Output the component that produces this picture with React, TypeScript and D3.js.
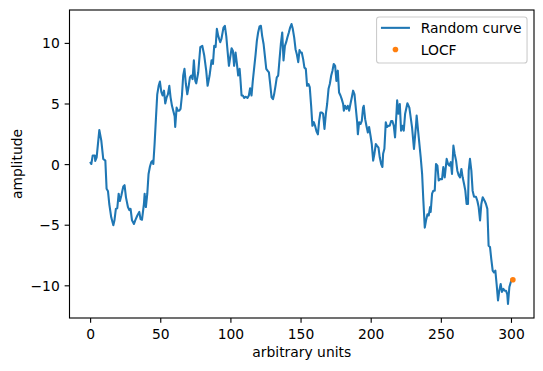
import React from 'react';
import * as d3 from 'd3';

// Random-walk curve (x in arbitrary units, y amplitude)
const curveX = [
  0, 0.5, 1.5, 3, 3.3, 4.3, 6.2, 7.6, 9, 10.5, 11.4, 12.4, 13.3, 14.7, 16.2, 17, 18, 19, 20, 20.9,
  21.9, 23.3, 24.2, 25.2, 26.6, 27.6, 28.5, 29.5, 30.9, 31.8, 33.3, 34.7, 35.6, 36.6, 38, 38.5, 39.4, 40.4, 41.3, 42.3,
  43.2, 44.2, 44.7, 45.6, 46.6, 47.5, 48.5, 49.4, 50.4, 51.3, 52.3, 53.2, 54.2, 55.1, 56.1, 57, 58, 58.9, 59.9, 60.3,
  61.3, 62.2, 63.2, 64.1, 65.1, 66, 66.9, 67.9, 68.9, 69.8, 70.8, 71.7, 72.7,
  73.6, 74.6, 75.3, 76.7, 78.2, 79.6, 81, 82.4, 83.4, 84.8, 86.2, 87.2, 88.1, 89.1, 90, 91, 92.4, 93.3, 94.7, 95.7,
  96.7, 97.6, 98.6, 99.5, 100.5, 101.4, 102.3, 103.3, 104.3, 105.2, 106.2, 106.6, 107.6, 108.5, 109.5, 110.4, 111.8, 112.8, 113.7, 114.7,
  115.6, 116.6, 117.6, 118.5, 119.4, 120.4, 121.4, 122.3, 123.3, 124.2, 125.2, 126.1, 127.1, 128, 129, 130, 130.8, 131.8, 132.7, 133.7,
  134.6, 135.6, 136.6, 137.5, 138.5, 139.4, 140.3, 141.3, 142.2, 143.2, 144.1, 145.1, 146.1, 147, 148, 148.9,
  149.6, 150.5, 151.5, 152.4, 153.4, 154.3, 155.3, 156.2, 157.2, 158.1, 159.1, 160, 161, 162, 162.9, 163.8, 164.8, 165.7, 166.7, 167.7,
  168.6, 169.6, 170.5, 171.5, 172.4, 173.3, 174.3, 175.2, 176.2, 177.1, 178.1, 179, 180, 180.5, 181.4, 182.4, 183.3, 184.3, 185.2, 186.2,
  187.1, 188.1, 189, 190, 190.5, 191.4, 192.4, 193.3, 194.2, 194.7, 195.7, 196.6, 197.6, 198.5, 199.5, 200.4, 201.4, 202.3, 203.3, 204.2,
  205.2, 206.1, 207.1, 208, 208.5, 209.4, 210.4, 211.3, 212.3, 213.2, 214.2, 215.1, 216.1, 217, 218, 218.5, 219.4, 220.4, 221.3, 222.3,
  223.2, 224.2,
  225.8, 227.2, 229.1, 230.5, 232, 232.4, 233.9, 235.3, 236.3, 237.2, 238.2, 239.1, 240.1, 241, 242, 242.4, 243.4, 244.3, 245.3, 246.2,
  247.2, 248.1, 249.1, 250.5, 251.4, 252.4, 253.8, 254.8, 255.7, 256.7, 257.6, 258.6, 259.5, 260.5, 261.4, 262.4, 263.3, 264.3, 265.2, 266.2,
  267.1, 268, 269, 269.5, 270.4, 271.4, 272.3, 273.3, 274.7, 275.7, 276.6, 277.6, 278.5, 279.5, 280.9, 281.8, 282.8, 283.7, 284.7, 285.6,
  286.6, 287.5, 288.5, 289.4, 290.4, 291.3, 292.3, 293.2, 294.2, 295.1, 296.1, 297, 297.5, 298.5, 300,
];
const curveY = [
  0.15, 0.05, 0.75, 0.75, 0.3, 0.6, 2.85, 2.0, 0.47, 0.33, -2.0, -2.2, -3.25, -4.35, -5.0, -4.6, -3.65, -3.6, -2.4, -3.0,
  -2.55, -1.8, -1.7, -2.7, -3.5, -3.75, -3.65, -4.6, -4.9, -4.6, -4.2, -3.9, -4.5, -4.55, -3.25, -2.4, -3.5, -2.4, -0.77, -0.16,
  0.2, 0.33, 0.05, 1.7, 3.9, 5.8, 6.5, 6.85, 6.0, 5.7, 6.1, 5.05, 5.55, 5.8, 6.5, 5.55, 4.85, 4.45, 4.0, 3.1,
  4.7, 4.45, 4.45, 4.6, 5.7, 7.35, 7.9, 6.65, 5.8, 6.4, 7.2, 7.35, 7.05,
  8.6, 6.9, 6.7, 7.6, 9.7, 9.8, 9.0, 7.75, 6.5, 7.35, 8.6, 8.3, 9.8, 9.7, 11.2, 10.6, 10.1, 10.4, 11.3, 11.45,
  10.6, 9.4, 8.15, 8.85, 9.6, 9.4, 8.15, 9.25, 8.3, 7.35, 7.9, 7.35, 5.7, 5.7, 5.5, 5.6, 5.5, 5.7, 6.3, 5.7,
  6.9, 8.0, 9.1, 10.2, 10.9, 11.4, 11.45, 10.6, 9.95, 9.0, 7.9, 7.75, 7.6, 6.65, 5.55, 5.4, 5.8, 6.5, 7.2, 7.35,
  8.6, 9.95, 10.9, 8.6, 9.8, 10.1, 10.5, 10.9, 11.3, 11.6, 11.2, 10.5, 9.5, 9.1, 8.45, 9.45,
  9.25, 9.25, 8.7, 8.0, 7.9, 6.5, 6.65, 6.4, 4.85, 3.2, 3.5, 3.2, 2.75, 2.5, 3.6, 4.3, 4.3, 4.2, 2.95, 4.2,
  5.0, 6.25, 6.65, 7.35, 7.75, 8.3, 8.15, 6.9, 7.75, 5.95, 5.7, 5.4, 5.0, 4.45, 4.85, 4.6, 4.85, 4.45, 5.0, 5.55,
  6.1, 5.8, 4.7, 3.5, 2.5, 3.5, 3.35, 3.6, 4.7, 4.85, 3.75, 3.2, 2.65, 3.1, 2.4, 1.7, 0.33, 0.9, 1.7, 1.55,
  1.4, 0.6, 0.05, -0.2, 0.9, 1.3, 3.5, 3.1, 3.2, 3.2, 3.6, 3.6, 3.2, 2.25, 4.2, 5.3, 4.2, 5.0, 2.8, 3.2,
  2.8, 4.2,
  5.06, 4.7, 3.1, 1.3, 3.35, 4.04, 2.25, 0.6, -0.77, -3.0, -5.2, -4.6, -4.1, -4.2, -3.5, -3.9, -2.4, -2.15, -2.15, 0.05,
  -0.08, -1.3, -1.2, -1.2, -0.2, -1.05, 0.47, 0.05, -0.08, 0.2, -0.77, 1.57, 0.88, 0.33, -0.5, -0.9, -1.05, -0.36, -1.05, -1.6,
  -2.15, -3.25, -3.25, -0.5, 0.47, -0.5, -2.15, -2.65, -2.65, -3.0, -3.5, -4.6, -3.25, -2.7, -3.0, -3.25, -3.65, -6.7, -6.8, -7.8,
  -8.75, -8.9, -8.75, -9.85, -11.2, -10.4, -9.85, -10.5, -10.25, -10.4, -10.4, -10.7, -11.5, -10.1, -9.5,
];
// Last observation carried forward
const locfX = [301];
const locfY = [-9.5];

const xTicks = [0, 50, 100, 150, 200, 250, 300];
const yTicks = [-10, -5, 0, 5, 10];
const seriesNames = ['Random curve', 'LOCF'];
const xLabel = 'arbitrary units';
const yLabel = 'amplitude';

const BLUE = '#1f77b4';
const ORANGE = '#ff7f0e';
const FONT = 'DejaVu Sans, sans-serif';
const FS = 13.89;

export default function App() {
  const W = 543;
  const H = 371;
  const left = 69.5;
  const right = 534;
  const top = 10;
  const bottom = 318;

  const allX = [...curveX, ...locfX];
  const allY = [...curveY, ...locfY];
  const [xmin, xmax] = d3.extent(allX) as [number, number];
  const [ymin, ymax] = d3.extent(allY) as [number, number];
  const xp = (xmax - xmin) * 0.05;
  const yp = (ymax - ymin) * 0.05;

  const x = d3.scaleLinear().domain([xmin - xp, xmax + xp]).range([left, right]);
  const y = d3.scaleLinear().domain([ymin - yp, ymax + yp]).range([bottom, top]);

  const pts: [number, number][] = curveX.map((v, i) => [v, curveY[i]]);
  const line = d3
    .line<[number, number]>()
    .x((d) => x(d[0]))
    .y((d) => y(d[1]));

  const fmt = (v: number) => (v < 0 ? '\u2212' + Math.abs(v) : String(v));
  const tickLen = 4.86;
  const pad = 4.86;

  // legend geometry
  const legRight = right - 6.95;
  const legTop = top + 6.95;
  const legW = 150.5;
  const legH = 46;
  const legLeft = legRight - legW;
  const row1 = legTop + 10.9;
  const row2 = row1 + 21.6;
  const hx0 = legLeft + 4.4;
  const hx1 = hx0 + 29;
  const tx = hx1 + 10.8;

  return (
    <svg
      width={W}
      height={H}
      viewBox={`0 0 ${W} ${H}`}
      style={{ position: 'absolute', left: 0, top: 0, background: '#fff' }}
      fontFamily={FONT}
    >
      <rect x={0} y={0} width={W} height={H} fill="#fff" />
      <path d={line(pts) || ''} fill="none" stroke={BLUE} strokeWidth={2.08} strokeLinejoin="round" strokeLinecap="square" />
      {locfX.map((v, i) => (
        <circle key={i} cx={x(v)} cy={y(locfY[i])} r={2.8} fill={ORANGE} />
      ))}
      {/* spines */}
      <rect x={left} y={top} width={right - left} height={bottom - top} fill="none" stroke="#000" strokeWidth={1.11} />
      {/* x ticks */}
      {xTicks.map((t) => (
        <g key={'x' + t}>
          <line x1={x(t)} x2={x(t)} y1={bottom} y2={bottom + tickLen} stroke="#000" strokeWidth={1.11} />
          <text x={x(t)} y={bottom + tickLen + pad + 10.9} textAnchor="middle" fontSize={FS} fill="#000">
            {fmt(t)}
          </text>
        </g>
      ))}
      {/* y ticks */}
      {yTicks.map((t) => (
        <g key={'y' + t}>
          <line x1={left - tickLen} x2={left} y1={y(t)} y2={y(t)} stroke="#000" strokeWidth={1.11} />
          <text x={left - tickLen - pad} y={y(t) + 5.05} textAnchor="end" fontSize={FS} fill="#000">
            {fmt(t)}
          </text>
        </g>
      ))}
      <text x={(left + right) / 2} y={356.6} textAnchor="middle" fontSize={FS} fill="#000">
        {xLabel}
      </text>
      <text
        transform={`translate(${21.5},${(top + bottom) / 2}) rotate(-90)`}
        textAnchor="middle"
        fontSize={FS}
        fill="#000"
      >
        {yLabel}
      </text>
      {/* legend */}
      <rect
        x={legLeft}
        y={legTop}
        width={legW}
        height={legH}
        rx={2.8}
        fill="#fff"
        fillOpacity={0.8}
        stroke="#cccccc"
        strokeWidth={1.11}
      />
      <line x1={hx0} x2={hx1} y1={row1} y2={row1} stroke={BLUE} strokeWidth={2.08} />
      <text x={tx} y={row1 + 5.6} fontSize={FS} fill="#000">
        {seriesNames[0]}
      </text>
      <circle cx={(hx0 + hx1) / 2} cy={row2} r={2.8} fill={ORANGE} />
      <text x={tx} y={row2 + 5.3} fontSize={FS} fill="#000">
        {seriesNames[1]}
      </text>
    </svg>
  );
}
